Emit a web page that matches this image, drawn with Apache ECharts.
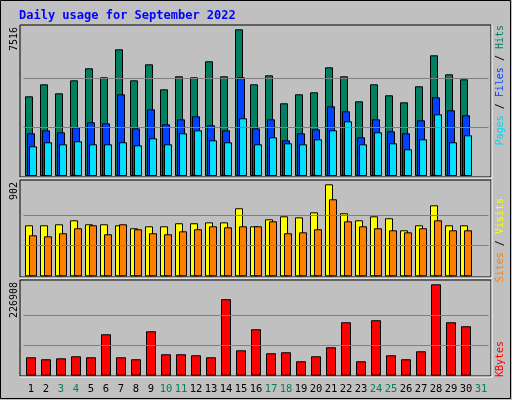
<!DOCTYPE html>
<html>
<head>
<meta charset="utf-8">
<script src="https://cdn.jsdelivr.net/npm/echarts@6/dist/echarts.min.js"></script>
<style>html,body{margin:0;padding:0;background:#c0c0c0}#c{width:512px;height:400px}</style>
</head>
<body>
<div id="c"></div>
<script>
// daily values (day 31 has no data)
var days = [];
for (var d = 1; d <= 31; ++d) days.push(String(d));
var weekendDays = [3, 4, 10, 11, 17, 18, 24, 25, 31];

var hits = [4083, 4698, 4237, 4903, 5518, 5057, 6491, 4903, 5723, 4442, 5108, 5057, 5877, 5108, 7516,
    4698, 5159, 3725, 4186, 4288, 5569, 5108, 3827, 4698, 4135, 3776, 4596, 6184, 5211, 4954];
var files = [2188, 2341, 2239, 2495, 2751, 2700, 4186, 2444, 3417, 2649, 2905, 3059, 2598, 2341, 5057,
    2444, 2905, 1829, 2188, 2393, 3571, 3315, 1983, 2905, 2290, 2188, 2854, 4032, 3366, 3110];
var pages = [1522, 1727, 1624, 1778, 1624, 1624, 1727, 1573, 1932, 1624, 2188, 2341, 1829, 1727, 2956,
    1624, 1983, 1675, 1624, 1880, 2341, 2802, 1624, 2239, 1675, 1368, 1880, 3161, 1727, 2085];
var visits = [500, 500, 510, 549, 510, 510, 500, 471, 490, 490, 520, 520, 529, 529, 667,
    490, 559, 588, 578, 627, 902, 618, 549, 588, 569, 451, 500, 696, 500, 500];
var sites = [402, 392, 422, 471, 500, 412, 510, 461, 422, 412, 441, 461, 490, 480, 490,
    490, 539, 422, 431, 461, 755, 539, 490, 471, 451, 431, 471, 549, 451, 451];
var kbytes = [45700, 40800, 43200, 48200, 45700, 102900, 45700, 40800, 110300, 53200, 53200, 50700, 45700, 189900, 63100,
    115300, 55700, 58200, 35800, 48200, 70600, 132700, 35800, 137700, 50700, 40800, 60600, 226908, 132700, 122800];

var maxHits = 7516, maxVisits = 902, maxKbytes = 226908;
var mono = 'DejaVu Sans Mono';

var panels = [
    { top: 29.3, bottom: 176, box: [20, 25, 471, 152], max: maxHits },
    { top: 184.3, bottom: 276.3, box: [20, 180, 471, 97], max: maxVisits },
    { top: 284.3, bottom: 375.7, box: [20, 280, 471, 96], max: maxKbytes }
];

var grids = [], xAxes = [], yAxes = [], graphics = [];
panels.forEach(function (p, i) {
    grids.push({ left: 23.5, right: 23.5, top: p.top, height: p.bottom - p.top });
    xAxes.push({
        type: 'category', gridIndex: i, data: days,
        axisLine: { show: false }, axisTick: { show: false },
        axisLabel: i < 2 ? { show: false } : {
            interval: 0, margin: 8, fontFamily: mono, fontSize: 10.5,
            color: function (v) { return weekendDays.indexOf(+v) >= 0 ? '#008060' : '#000'; }
        }
    });
    yAxes.push({ type: 'value', gridIndex: i, min: 0, max: p.max, show: false, splitLine: { show: false } });
    graphics.push({
        type: 'rect', z: -1,
        shape: { x: p.box[0], y: p.box[1], width: p.box[2], height: p.box[3] },
        style: { fill: '#c0c0c0', stroke: '#000', lineWidth: 1 }
    });
    graphics.push({
        type: 'polyline', z: -1,
        shape: { points: [[p.box[0], p.box[1] + p.box[3] + 1], [p.box[0] + p.box[2] + 1, p.box[1] + p.box[3] + 1], [p.box[0] + p.box[2] + 1, p.box[1]]] },
        style: { stroke: '#fff', lineWidth: 1 }
    });
});

function grid3(max) {
    return {
        silent: true, symbol: 'none', label: { show: false },
        lineStyle: { color: '#808080', type: 'solid', width: 1 },
        data: [{ yAxis: max / 3 }, { yAxis: max * 2 / 3 }]
    };
}
function bar(name, data, color, idx, width, gap, ml) {
    var s = {
        name: name, type: 'bar', data: data, xAxisIndex: idx, yAxisIndex: idx,
        barWidth: width, barGap: gap, animation: false,
        itemStyle: { color: color, borderColor: '#000', borderWidth: 1 }
    };
    if (ml) s.markLine = ml;
    return s;
}

// rotated axis captions
function vtext(x, y, rich, text) {
    return {
        type: 'text', x: x, y: y, rotation: Math.PI / 2,
        style: { text: text, rich: rich, font: '10px ' + mono, align: 'right', verticalAlign: 'middle' }
    };
}
graphics.push(vtext(14, 27, {}, '7516'));
graphics.push(vtext(14, 182, {}, '902'));
graphics.push(vtext(14, 282, {}, '226908'));
var rt = { fontFamily: mono, fontSize: 10 };
graphics.push(vtext(500, 25, {
    p: Object.assign({ fill: '#00d8f0' }, rt), f: Object.assign({ fill: '#0040ff' }, rt), h: Object.assign({ fill: '#008060' }, rt)
}, '{p|Pages} / {f|Files} / {h|Hits}'));
graphics.push(vtext(500, 198, {
    s: Object.assign({ fill: '#ff8000' }, rt), v: Object.assign({ fill: '#ffff00' }, rt)
}, '{s|Sites} / {v|Visits}'));
graphics.push(vtext(500, 341, { k: Object.assign({ fill: '#ff0000' }, rt) }, '{k|KBytes}'));
graphics.push({ type: 'rect', z: -2, shape: { x: 0.5, y: 0.5, width: 510, height: 398 }, style: { fill: 'none', stroke: '#000' } });
graphics.push({ type: 'text', x: 19, y: 10, style: { text: 'Daily usage for September 2022', font: 'bold 12px ' + mono, fill: '#0000ff' } });

var chart = echarts.init(document.getElementById('c'));
chart.setOption({
    backgroundColor: '#c0c0c0',
    animation: false,
    grid: grids, xAxis: xAxes, yAxis: yAxes,
    graphic: graphics,
    series: [
        bar('Hits', hits, '#008060', 0, 8, '-75%', grid3(maxHits)),
        bar('Files', files, '#0040ff', 0, 8, '-75%'),
        bar('Pages', pages, '#00e0ff', 0, 8, '-75%'),
        bar('Visits', visits, '#ffff00', 1, 8, '-50%', grid3(maxVisits)),
        bar('Sites', sites, '#ff8000', 1, 8, '-50%'),
        bar('KBytes', kbytes, '#ff0000', 2, 10, '0%', grid3(maxKbytes))
    ]
});
</script>
</body>
</html>
